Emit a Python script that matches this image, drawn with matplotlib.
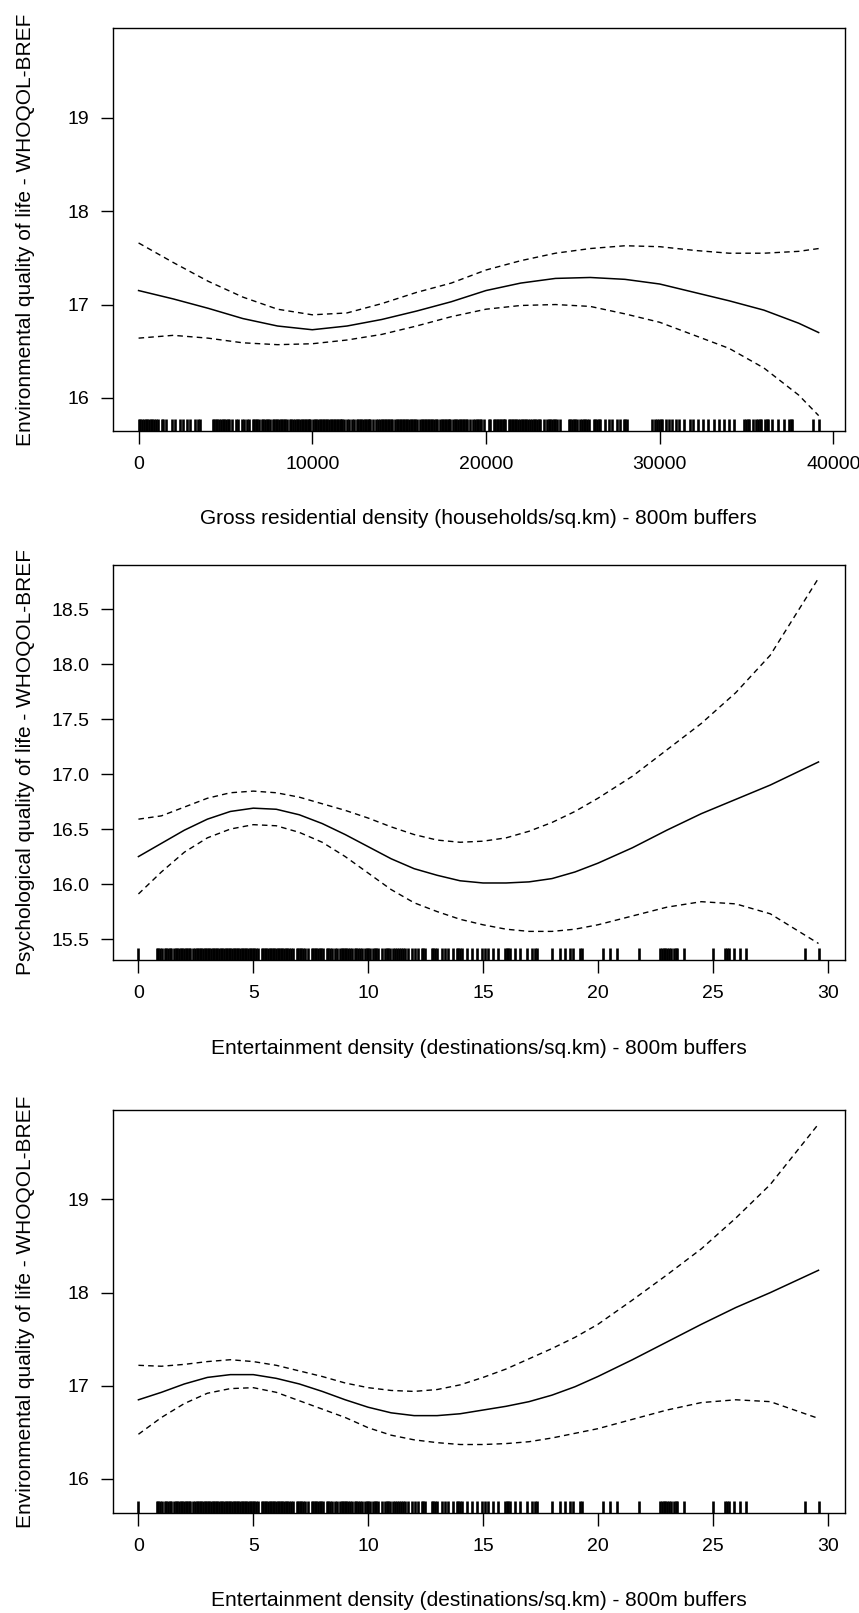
import matplotlib
matplotlib.use("Agg")
import matplotlib.pyplot as plt
from matplotlib import font_manager

plt.rcParams['font.family'] = ['Liberation Sans', 'DejaVu Sans']

# ---- panel 1: gross residential density vs environmental QoL ----
res_x = [0, 2000, 4000, 6000, 8000, 10000, 12000, 14000, 16000, 18000, 20000,
         22000, 24000, 26000, 28000, 30000, 32000, 34000, 36000, 38000, 39150]
res_fit = [17.15, 17.06, 16.96, 16.85, 16.77, 16.73, 16.77, 16.84, 16.93, 17.03, 17.15,
           17.23, 17.28, 17.29, 17.27, 17.22, 17.13, 17.04, 16.94, 16.80, 16.70]
res_hi = [17.66, 17.45, 17.25, 17.08, 16.95, 16.89, 16.91, 17.01, 17.13, 17.23, 17.37,
          17.47, 17.55, 17.60, 17.63, 17.62, 17.58, 17.55, 17.55, 17.57, 17.60]
res_lo = [16.64, 16.67, 16.64, 16.59, 16.57, 16.58, 16.62, 16.68, 16.77, 16.87, 16.95,
          16.99, 17.00, 16.98, 16.90, 16.81, 16.67, 16.53, 16.32, 16.03, 15.81]
res_rug = [0, 100, 200, 300, 400, 500, 600, 700, 800, 900, 1000,
           1140, 1340, 1430, 1580, 1910, 2100, 2390, 2580, 2780, 2970, 3250, 3440, 3540,
           4270, 4350, 4440, 4520, 4650, 4750, 4840, 4930, 5040, 5140, 5230,
           5370, 5620, 5750, 5940, 6080, 6230, 6380, 6580,
           6650, 6740, 6830, 6910, 7100, 7190, 7290, 7370, 7460, 7550, 7730,
           7800, 7890, 7980, 8060, 8190, 8270, 8350, 8440, 8520, 8690, 8780, 8870,
           9010, 9100, 9190, 9300, 9390, 9480, 9570, 9660, 9740, 9820, 9890,
           10060, 10150, 10240, 10330, 10420, 10510, 10600, 10690, 10780, 10870, 10960,
           11050, 11140, 11230, 11320, 11410, 11500, 11590, 11680, 11720, 11800,
           11980, 12100, 12270, 12380, 12560, 12650, 12740, 12830, 12920, 13010, 13100,
           13190, 13270, 13350, 13520, 13640, 13810, 13900, 13990, 14080, 14170, 14260,
           14350, 14430, 14510, 14590, 14760, 14850, 14940, 15030, 15120, 15210, 15300,
           15390, 15480, 15570, 15660, 15750, 15840, 15930, 16030, 16200, 16290, 16380,
           16470, 16560, 16650, 16740, 16830, 16920, 17010, 17100, 17180, 17350, 17440,
           17530, 17620, 17710, 17800, 17880, 17950, 18120, 18210, 18300, 18390, 18480,
           18570, 18660, 18750, 18830, 18910, 19090, 19280, 19370, 19460, 19550, 19640,
           19730, 19860, 20150, 20250,
           20440, 20530, 20620, 20710, 20800, 20890, 20980, 21060, 21110,
           21300, 21390, 21480, 21570, 21660, 21750, 21840,
           21970, 22060, 22150, 22240, 22330, 22420, 22510,
           22650, 22740, 22840, 22930, 23030, 23130, 23320,
           23510, 23610, 23700, 23800, 23890, 23990, 24090, 24280,
           24760, 24850, 24950, 25050, 25140, 25240, 25430, 25530, 25620, 25720, 25820,
           25910, 26200, 26290, 26390, 26480, 26580, 26870, 27060, 27260, 27540, 27730,
           27920, 28020, 28120, 29560, 29750,
           29850, 29950, 30050, 30140, 30340, 30540, 30735, 30930, 31130, 31420, 31720,
           31915, 32210, 32500, 32800, 33100, 33390, 33685, 33980, 34280,
           34870, 34960, 35060, 35160, 35360, 35560, 35660, 35750, 35850,
           36050, 36150, 36250, 36440, 36835, 37130, 37430, 37530, 37620, 38850, 39150]

# ---- panels 2 and 3: entertainment density ----
ent_x = [0, 1, 2, 3, 4, 5, 6, 7, 8, 9, 10, 11, 12, 13, 14, 15, 16, 17, 18, 19, 20,
         21.5, 23, 24.5, 26, 27.5, 29.6]
psy_fit = [16.25, 16.37, 16.49, 16.59, 16.66, 16.69, 16.68, 16.63, 16.55, 16.45, 16.34,
           16.23, 16.14, 16.08, 16.03, 16.01, 16.01, 16.02, 16.05, 16.11, 16.19,
           16.33, 16.49, 16.64, 16.77, 16.90, 17.11]
psy_hi = [16.59, 16.62, 16.70, 16.78, 16.83, 16.845, 16.83, 16.79, 16.73, 16.67, 16.60,
          16.52, 16.45, 16.40, 16.38, 16.39, 16.42, 16.48, 16.56, 16.66, 16.78,
          16.98, 17.22, 17.46, 17.74, 18.08, 18.78]
psy_lo = [15.91, 16.11, 16.29, 16.42, 16.50, 16.54, 16.53, 16.47, 16.38, 16.25, 16.10,
          15.95, 15.83, 15.75, 15.68, 15.63, 15.59, 15.57, 15.57, 15.59, 15.63,
          15.71, 15.79, 15.84, 15.82, 15.73, 15.46]
env_fit = [16.85, 16.93, 17.02, 17.09, 17.12, 17.12, 17.08, 17.02, 16.94, 16.85, 16.77,
           16.71, 16.68, 16.68, 16.70, 16.74, 16.78, 16.83, 16.90, 16.99, 17.10,
           17.28, 17.47, 17.66, 17.84, 18.00, 18.24]
env_hi = [17.22, 17.21, 17.23, 17.26, 17.28, 17.26, 17.22, 17.16, 17.10, 17.03, 16.98,
          16.95, 16.94, 16.96, 17.01, 17.09, 17.18, 17.29, 17.40, 17.52, 17.66,
          17.92, 18.19, 18.47, 18.80, 19.16, 19.81]
env_lo = [16.48, 16.66, 16.81, 16.92, 16.97, 16.98, 16.93, 16.84, 16.75, 16.66, 16.55,
          16.47, 16.42, 16.39, 16.37, 16.37, 16.38, 16.40, 16.44, 16.49, 16.54,
          16.64, 16.74, 16.82, 16.85, 16.83, 16.65]
ent_rug = [0, 0.79, 0.86, 0.93, 1.01, 1.15, 1.22, 1.29, 1.36, 1.42,
           1.56, 1.63, 1.70, 1.77, 1.84, 1.91, 1.98, 2.05, 2.12, 2.19, 2.25,
           2.39, 2.46, 2.53, 2.60, 2.67, 2.74, 2.81, 2.88, 2.95, 3.02, 3.09, 3.16,
           3.23, 3.30, 3.37, 3.44, 3.51, 3.58, 3.65, 3.72, 3.79, 3.86, 3.93, 4.00,
           4.07, 4.14, 4.21, 4.28, 4.35, 4.42, 4.49, 4.56, 4.63, 4.70, 4.77, 4.84,
           4.91, 4.98, 5.05, 5.12, 5.22, 5.36, 5.43, 5.50, 5.57, 5.64, 5.71, 5.78,
           5.85, 5.92, 5.99, 6.06, 6.13, 6.20, 6.27, 6.34, 6.41, 6.48, 6.55, 6.62,
           6.74, 6.88, 6.95, 7.02, 7.09, 7.16, 7.23, 7.40, 7.54, 7.61, 7.68, 7.75,
           7.82, 7.89, 7.96, 8.05, 8.19, 8.26, 8.33, 8.41, 8.55, 8.63, 8.77, 8.84,
           8.91, 8.98, 9.05, 9.12, 9.19, 9.28, 9.42, 9.49, 9.56, 9.63, 9.72, 9.86,
           9.93, 10.00, 10.08, 10.22, 10.29, 10.36, 10.44, 10.58, 10.73, 10.80,
           10.87, 10.95, 11.09, 11.17, 11.26, 11.35, 11.44, 11.52, 11.60,
           11.75, 11.89, 12.04, 12.18, 12.33, 12.40, 12.47, 12.76, 12.84, 12.91,
           12.98, 13.20, 13.34, 13.49, 13.70, 13.85, 13.93, 14.00, 14.07, 14.29,
           14.51, 14.72, 14.94, 15.08, 15.23, 15.42, 15.66, 15.95, 16.03, 16.10,
           16.17, 16.39, 16.61, 16.90, 17.12, 17.26, 17.34, 17.99, 18.35, 18.57,
           18.79, 18.93, 19.22, 19.29, 20.23, 20.53, 20.82, 21.80, 22.71, 22.78,
           22.86, 22.93, 23.01, 23.08, 23.16, 23.31, 23.38, 23.45, 23.75, 25.02,
           25.53, 25.61, 25.69, 25.91, 26.20, 26.43, 29.03, 29.60]

res_xticks = [0, 10000, 20000, 30000, 40000]
ent_xticks = [0, 5, 10, 15, 20, 25, 30]
env_yticks = [16, 17, 18, 19]
env_ylabels = ["16", "17", "18", "19"]
psy_yticks = [15.5, 16.0, 16.5, 17.0, 17.5, 18.0, 18.5]
psy_ylabels = ["15.5", "16.0", "16.5", "17.0", "17.5", "18.0", "18.5"]

# tick numbers look condensed in the original; use the narrow face when present
names = {f.name for f in font_manager.fontManager.ttflist}
if 'Liberation Sans Narrow' in names:
    tick_font, tick_size = 'Liberation Sans Narrow', 16.5
else:
    tick_font, tick_size = 'Liberation Sans', 14

W, H = 859, 1613
fig = plt.figure(figsize=(W / 100, H / 100), dpi=100)


def panel(top, bottom, x, fit, lo, hi, rug, xlim, ylim, xticks, yticks, ylabels,
          xlabel, ylabel):
    left, right = 112.7, 844.7
    ax = fig.add_axes([left / W, 1 - bottom / H, (right - left) / W, (bottom - top) / H])
    ax.plot(x, fit, color='black', lw=1.1)
    ax.plot(x, hi, color='black', lw=1.0, dashes=(4, 3))
    ax.plot(x, lo, color='black', lw=1.0, dashes=(4, 3))
    # rug of observed x values, 3% of the plot height
    ax.vlines(rug, 0, 0.03, transform=ax.get_xaxis_transform(), color='black', lw=1.9)
    ax.set_xlim(*xlim)
    ax.set_ylim(*ylim)
    ax.set_xticks(xticks)
    ax.set_xticklabels([str(t) for t in xticks], family=tick_font, fontsize=tick_size)
    ax.set_yticks(yticks)
    ax.set_yticklabels(ylabels, family=tick_font, fontsize=tick_size)
    ax.tick_params(axis='x', length=9, width=1, pad=9)
    ax.tick_params(axis='y', length=9, width=1, pad=8)
    for s in ax.spines.values():
        s.set_linewidth(1.0)
    ax.set_xlabel(xlabel, fontsize=15, va='center')
    ax.xaxis.set_label_coords(0.5, -88 / (bottom - top))
    ax.set_ylabel(ylabel, fontsize=15, va='center')
    ax.yaxis.set_label_coords((26 - left) / (right - left), 0.5)
    return ax


panel(28.3, 431, res_x, res_fit, res_lo, res_hi, res_rug, (-1490, 40650), (15.645, 19.96),
      res_xticks, env_yticks, env_ylabels,
      "Gross residential density (households/sq.km) - 800m buffers",
      "Environmental quality of life - WHOQOL-BREF")
panel(565, 960, ent_x, psy_fit, psy_lo, psy_hi, ent_rug, (-1.12, 30.74), (15.31, 18.90),
      ent_xticks, psy_yticks, psy_ylabels,
      "Entertainment density (destinations/sq.km) - 800m buffers",
      "Psychological quality of life - WHOQOL-BREF")
panel(1110, 1513, ent_x, env_fit, env_lo, env_hi, ent_rug, (-1.12, 30.74), (15.635, 19.96),
      ent_xticks, env_yticks, env_ylabels,
      "Entertainment density (destinations/sq.km) - 800m buffers",
      "Environmental quality of life - WHOQOL-BREF")

fig.savefig("out.png", dpi=100)
